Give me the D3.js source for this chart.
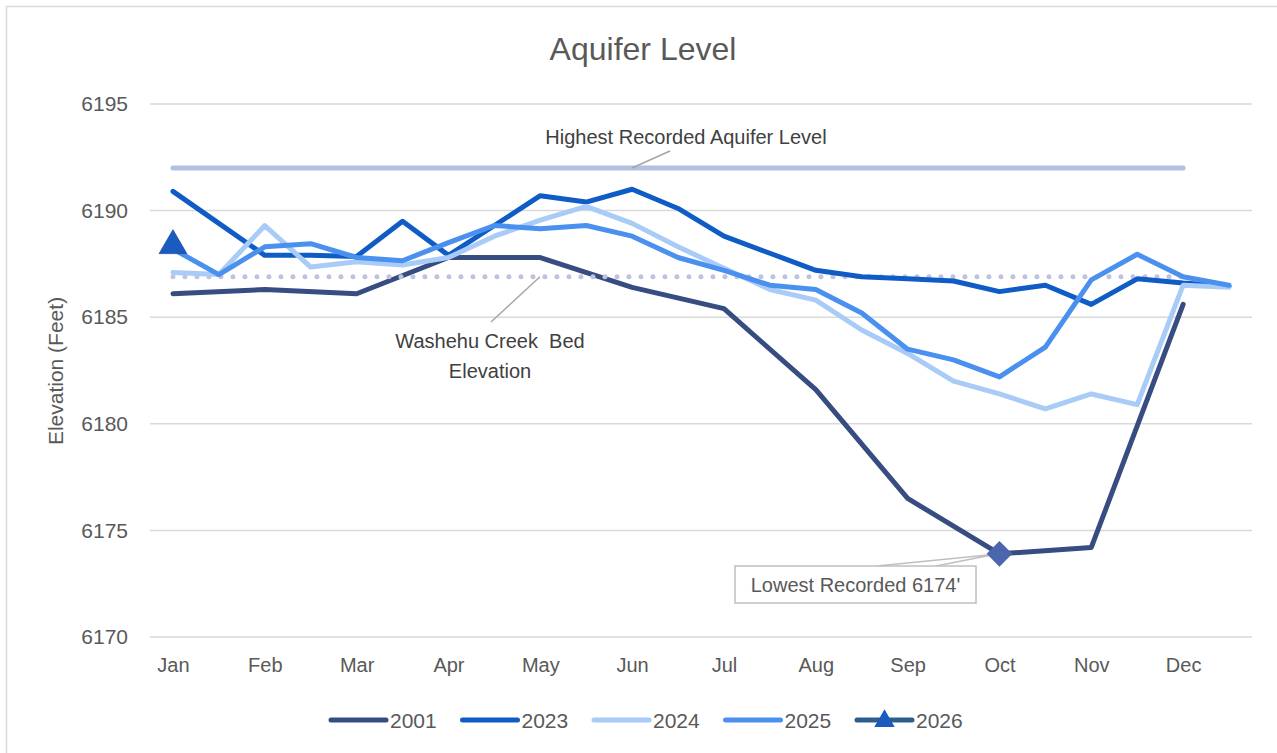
<!DOCTYPE html>
<html><head><meta charset="utf-8">
<script src="https://cdn.jsdelivr.net/npm/d3@7"></script>
<style>
html,body{margin:0;padding:0;background:#fff;}
svg{display:block;font-family:"Liberation Sans",Arial,sans-serif;}
</style></head>
<body><svg id="c" width="1277" height="753"></svg>
<script>
const categories = ["Jan","","Feb","","Mar","","Apr","","May","","Jun","","Jul","","Aug","","Sep","","Oct","","Nov","","Dec",""];
const yTicks = [6170,6175,6180,6185,6190,6195];
const seriesNames = ["2001","2023","2024","2025","2026"];
const s2001 = [6186.1,null,6186.3,null,6186.1,null,6187.8,null,6187.8,null,6186.4,null,6185.4,null,6181.6,null,6176.5,null,6173.9,null,6174.2,null,6185.6,null];
const s2023 = [6190.9,6189.4,6187.9,6187.9,6187.85,6189.5,6187.9,6189.3,6190.7,6190.4,6191.0,6190.1,6188.8,6188.0,6187.2,6186.9,6186.8,6186.7,6186.2,6186.5,6185.6,6186.8,6186.6,6186.45];
const s2024 = [6187.1,6187.0,6189.3,6187.35,6187.6,6187.45,6187.8,6188.8,6189.55,6190.2,6189.4,6188.3,6187.3,6186.3,6185.8,6184.4,6183.3,6182.0,6181.4,6180.7,6181.4,6180.9,6186.5,6186.4];
const s2025 = [6188.2,6187.0,6188.3,6188.45,6187.8,6187.65,6188.5,6189.3,6189.15,6189.3,6188.8,6187.8,6187.2,6186.5,6186.3,6185.2,6183.5,6183.0,6182.2,6183.6,6186.75,6187.95,6186.9,6186.5];
const s2026 = [6188.45,null,null,null,null,null,null,null,null,null,null,null,null,null,null,null,null,null,null,null,null,null,null,null];
const highestLevel = 6192;
const creekBed = 6186.9;
const lowestIndex = 18;

const colors = {"2001":"#374C80","2023":"#0F5CC6","2024":"#A9CBF7","2025":"#4A90EE","2026":"#2E5E8E"};
const svg = d3.select("#c");
const x = d3.scalePoint().domain(d3.range(categories.length)).range([150,1252]).padding(0.5);
const y = d3.scaleLinear().domain([6170,6195]).range([637,104]);
const grey = "#595959";

// border
svg.append("rect").attr("x",6.5).attr("y",6.5).attr("width",1290).attr("height",770)
  .attr("fill","none").attr("stroke","#D9D9D9").attr("stroke-width",1.5);

// title
svg.append("text").attr("x",643).attr("y",60).attr("text-anchor","middle")
  .attr("font-size",32).attr("fill",grey).text("Aquifer Level");

// grid
svg.append("g").selectAll("line").data(yTicks).join("line")
  .attr("x1",150).attr("x2",1252).attr("y1",d=>y(d)).attr("y2",d=>y(d))
  .attr("stroke","#D9D9D9").attr("stroke-width",1.5);

// y axis labels
const yAxis = svg.append("g").attr("transform","translate(150,0)")
  .call(d3.axisLeft(y).tickValues(yTicks).tickSize(0).tickPadding(22).tickFormat(d3.format("d")));
yAxis.select(".domain").remove();
yAxis.selectAll("text").attr("font-size",21).attr("fill",grey).attr("font-family","Liberation Sans, Arial, sans-serif");

// x axis labels
const xAxis = svg.append("g").attr("transform","translate(0,637)")
  .call(d3.axisBottom(x).tickSize(0).tickPadding(21).tickFormat(i=>categories[i]));
xAxis.select(".domain").remove();
xAxis.selectAll("text").attr("font-size",20).attr("fill",grey).attr("font-family","Liberation Sans, Arial, sans-serif");

// y title
svg.append("text").attr("transform","translate(63,371) rotate(-90)").attr("text-anchor","middle")
  .attr("font-size",21).attr("fill",grey).text("Elevation (Feet)");

const line = d3.line().x(d=>x(d.i)).y(d=>y(d.v));
function pts(arr){ return arr.map((v,i)=>({i,v})).filter(d=>d.v!=null); }

// highest recorded level line
svg.append("line").attr("x1",x(0)).attr("x2",x(22)).attr("y1",y(highestLevel)).attr("y2",y(highestLevel))
  .attr("stroke","#B4C0E2").attr("stroke-width",5).attr("stroke-linecap","round");

function drawSeries(arr,col){
  svg.append("path").datum(pts(arr)).attr("d",line).attr("fill","none")
    .attr("stroke",col).attr("stroke-width",5).attr("stroke-linejoin","round").attr("stroke-linecap","round");
}
drawSeries(s2001,colors["2001"]);

// creek bed dotted line
svg.append("line").attr("x1",x(0)).attr("x2",x(22)).attr("y1",y(creekBed)).attr("y2",y(creekBed))
  .attr("stroke","#BCC4E2").attr("stroke-width",5).attr("stroke-linecap","round").attr("stroke-dasharray","0 12");

drawSeries(s2023,colors["2023"]);
drawSeries(s2024,colors["2024"]);
drawSeries(s2025,colors["2025"]);

// 2026 marker
const tri = d3.symbol().type(d3.symbolTriangle).size(330);
svg.append("g").selectAll("path").data(pts(s2026)).join("path")
  .attr("d",tri).attr("transform",d=>`translate(${x(d.i)},${y(d.v)+2})`)
  .attr("fill","#1A5BBF").attr("stroke","#1A4F9F").attr("stroke-width",0.8);

// lowest marker diamond (rotated square)
const lx = x(lowestIndex), ly = y(s2001[lowestIndex]);
svg.append("path").attr("d",`M877,566 L${lx-4},${ly+0.5} L936,566`).attr("fill","none")
  .attr("stroke","#BFBFBF").attr("stroke-width",1.5);
svg.append("path").attr("d",d3.symbol().type(d3.symbolSquare).size(330)())
  .attr("transform",`translate(${lx},${ly}) rotate(45)`).attr("fill","#4A66AC");
svg.append("rect").attr("x",735).attr("y",566).attr("width",241).attr("height",37)
  .attr("fill","#fff").attr("stroke","#BFBFBF").attr("stroke-width",1.5);
svg.append("text").attr("x",855.5).attr("y",592).attr("text-anchor","middle")
  .attr("font-size",20).attr("fill",grey).text("Lowest Recorded 6174'");

// annotations
svg.append("line").attr("x1",632).attr("y1",y(highestLevel)).attr("x2",670).attr("y2",151)
  .attr("stroke","#A6A6A6").attr("stroke-width",1.5);
svg.append("text").attr("x",686).attr("y",144).attr("text-anchor","middle")
  .attr("font-size",20).attr("fill","#404040").text("Highest Recorded Aquifer Level");
svg.append("line").attr("x1",540).attr("y1",y(creekBed)).attr("x2",491).attr("y2",322)
  .attr("stroke","#A6A6A6").attr("stroke-width",1.5);
const ct = svg.append("text").attr("text-anchor","middle").attr("font-size",20).attr("fill","#404040")
  .attr("xml:space","preserve");
ct.append("tspan").attr("x",490).attr("y",348).text("Washehu Creek  Bed");
ct.append("tspan").attr("x",490).attr("y",378).text("Elevation");

// legend
const lg = svg.append("g");
seriesNames.forEach((n,k)=>{
  const gx = 331 + k*131.5, gy = 720;
  lg.append("line").attr("x1",gx).attr("x2",gx+55).attr("y1",gy).attr("y2",gy)
    .attr("stroke",colors[n]).attr("stroke-width",5).attr("stroke-linecap","round");
  if(n==="2026"){
    lg.append("path").attr("d",d3.symbol().type(d3.symbolTriangle).size(180)())
      .attr("transform",`translate(${gx+27.5},${gy+1})`).attr("fill","#1A5BBF");
  }
  lg.append("text").attr("x",gx+59).attr("y",gy+7.5).attr("font-size",21).attr("fill",grey).text(n);
});
</script></body></html>
